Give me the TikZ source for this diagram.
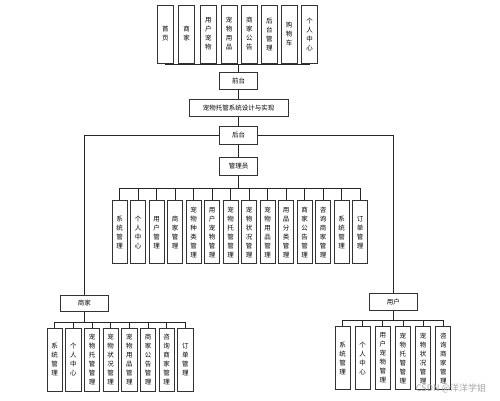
\documentclass[tikz,border=0pt]{standalone}
\usepackage{fontspec}
\newfontfamily\cjk{Noto Sans CJK SC}
\usetikzlibrary{positioning,calc}

\begin{document}
\begin{tikzpicture}[x=1pt, y=-1pt, font=\cjk\fontsize{6.5}{9}\selectfont,
    box/.style={draw=black!80, line width=0.8pt, fill=white, inner sep=0pt, align=center},
    vbox/.style={box, minimum width=15.5pt, minimum height=63pt},
    hbox/.style={box, minimum width=38.5pt, minimum height=17.5pt},
    link/.style={draw=black!85, line width=0.7pt}]
  \useasboundingbox (0,0) rectangle (500,401);

  % --- front-end modules (top row) ---
  \foreach \x/\txt [count=\i] in {165.3/{首\\页}, 186.7/{商\\家}, 208.3/{用\\户\\宠\\物},
      229.2/{宠\\物\\用\\品}, 249.3/{商\\家\\公\\告}, 269.3/{后\\台\\管\\理},
      289.0/{购\\物\\车}, 309.5/{个\\人\\中\\心}}{
    \node[vbox, minimum width=16pt, minimum height=58pt] (top\i) at (\x,34) {\txt};
  }

  % --- main spine ---
  \node[hbox] (qian) at (238.5,81) {前台};
  \node[hbox, minimum width=98.7pt] (sys) at (238.6,108) {宠物托管系统设计与实现};
  \node[hbox] (hou) at (238.5,135.3) {后台};
  \node[hbox] (admin) at (238.5,166.2) {管理员};
  \node[hbox, minimum width=48pt, minimum height=16.7pt] (shop) at (84.3,303.3) {商家};
  \node[hbox, minimum width=48pt, minimum height=17.4pt] (user) at (393.3,302) {用户};

  % --- admin modules ---
  \foreach \txt [count=\i] in {{系\\统\\管\\理}, {个\\人\\中\\心}, {用\\户\\管\\理},
      {商\\家\\管\\理}, {宠\\物\\种\\类\\管\\理}, {用\\户\\宠\\物\\管\\理},
      {宠\\物\\托\\管\\管\\理}, {宠\\物\\状\\况\\管\\理}, {宠\\物\\用\\品\\管\\理},
      {用\\品\\分\\类\\管\\理}, {商\\家\\公\\告\\管\\理}, {咨\\询\\商\\家\\管\\理},
      {系\\统\\管\\理}, {订\\单\\管\\理}}{
    \pgfmathsetmacro{\x}{119.7+18.5*(\i-1)}
    \node[vbox, minimum width=15pt] (adm\i) at (\x,232.3) {\txt};
  }

  % --- merchant modules ---
  \foreach \txt [count=\i] in {{系\\统\\管\\理}, {个\\人\\中\\心}, {宠\\物\\托\\管\\管\\理},
      {宠\\物\\状\\况\\管\\理}, {宠\\物\\用\\品\\管\\理}, {商\\家\\公\\告\\管\\理},
      {咨\\询\\商\\家\\管\\理}, {订\\单\\管\\理}}{
    \pgfmathsetmacro{\x}{54.7+18.66*(\i-1)}
    \node[vbox, minimum width=15.3pt, minimum height=62.7pt] (shp\i) at (\x,359.7) {\txt};
  }

  % --- user modules ---
  \foreach \txt [count=\i] in {{系\\统\\管\\理}, {个\\人\\中\\心}, {用\\户\\宠\\物\\管\\理},
      {宠\\物\\托\\管\\管\\理}, {宠\\物\\状\\况\\管\\理}, {咨\\询\\商\\家\\管\\理}}{
    \pgfmathsetmacro{\x}{342.5+20.16*(\i-1)}
    \node[vbox, minimum width=15pt, minimum height=62.7pt] (usr\i) at (\x,358) {\txt};
  }

  % --- connectors ---
  \foreach \i in {1,...,8}
    \draw[link] (qian.north) -- ++(0,-7.3) -| (top\i.south);
  \draw[link] (qian) -- (sys);
  \draw[link] (sys) -- (hou);
  \draw[link] (hou) -- (admin);
  \draw[link] (hou.west) -| (shop.north);
  \draw[link] (hou.east) -| (user.north);
  \foreach \i in {1,...,14}
    \draw[link] (admin.south) -- ++(0,13) -| (adm\i.north);
  \foreach \i in {1,...,8}
    \draw[link] (shop.south) -- ++(0,10.3) -| (shp\i.north);
  \foreach \i in {1,...,6}
    \draw[link] (user.south) -- ++(0,9.3) -| (usr\i.north);

  % watermark
  \node[black!35, font=\cjk\fontsize{9}{10}\selectfont] (mark) at (451,388) {CSDN @洋洋学姐};
\end{tikzpicture}
\end{document}
